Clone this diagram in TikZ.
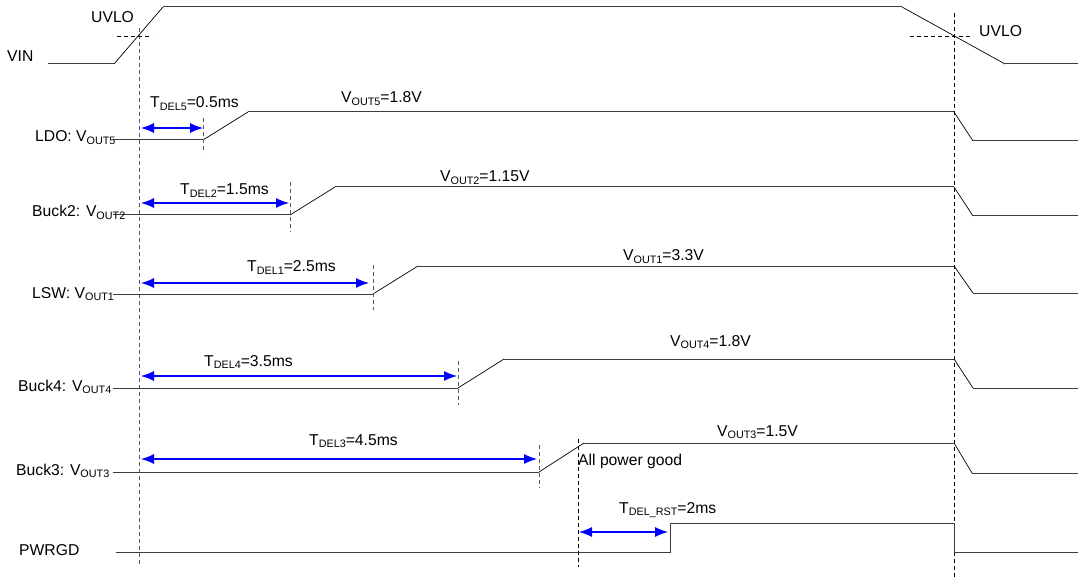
\documentclass[tikz,border=0pt]{standalone}
\usepackage{fontspec}
\setmainfont{Liberation Sans}
\usetikzlibrary{arrows.meta}
\newcommand{\lo}[1]{\raisebox{-2.5pt}{\fontsize{10.8}{10.8}\selectfont #1}}
\tikzset{
  sig/.style={draw={rgb,255:red,60;green,60;blue,60}, line width=1pt, line join=miter},
  ramp/.style={draw=black, line width=0.7pt},
  gdash/.style={draw={rgb,255:red,90;green,90;blue,90}, line width=0.8pt, dash pattern=on 4pt off 3pt},
  bdash/.style={draw=black, line width=0.8pt, dash pattern=on 4pt off 3pt},
  delay/.style={draw=blue, line width=1.1pt, {Latex[length=13pt,width=10pt]}-{Latex[length=13pt,width=10pt]}},
  lbl/.style={inner sep=0pt, anchor=base west, font=\fontsize{15.7}{16}\selectfont}
}
\begin{document}
\begin{tikzpicture}[x=1pt,y=-1pt]
\useasboundingbox (0,0) rectangle (1078,577);
% main vertical dashed lines
\coordinate (L1) at (139,28); \coordinate (L2) at (139,565);
\coordinate (R1) at (954,13); \coordinate (R2) at (954,577);
\draw[gdash] (L1) -- (L2);
\draw[bdash] (R1) -- (R2);
% UVLO horizontal
\draw[bdash] (117,36) -- (152,36);
\draw[bdash] (910,36) -- (973,36);
% VIN
\draw[sig] (48,64) -- (114,64);
\draw[ramp] (114,64) -- (163,7);
\draw[sig] (163,7) -- (902,7);
\draw[ramp] (902,7) -- (1005,64);
\draw[sig] (1005,64) -- (1078,64);
% LDO
\draw[sig] (113,140) -- (203,140);
\draw[ramp] (203,140) -- (248,112);
\draw[sig] (248,112) -- (954,112);
\draw[ramp] (954,112) -- (973,141);
\draw[sig] (973,141) -- (1078,141);
\draw[gdash] (203,118) -- (203,153);
% Buck2
\draw[sig] (113,215) -- (290,215);
\draw[ramp] (290,215) -- (335,187);
\draw[sig] (335,187) -- (954,187);
\draw[ramp] (954,187) -- (973,216);
\draw[sig] (973,216) -- (1078,216);
\draw[gdash] (290,182) -- (290,232);
% LSW
\draw[sig] (113,294) -- (373,294);
\draw[ramp] (373,294) -- (418,266);
\draw[sig] (418,266) -- (954,266);
\draw[ramp] (954,266) -- (973,293);
\draw[sig] (973,293) -- (1078,293);
\draw[gdash] (373,265) -- (373,310);
% Buck4
\draw[sig] (113,388) -- (458,388);
\draw[ramp] (458,388) -- (504,359);
\draw[sig] (504,359) -- (954,359);
\draw[ramp] (954,359) -- (973,388);
\draw[sig] (973,388) -- (1078,388);
\draw[gdash] (458,361) -- (458,405);
% Buck3
\draw[sig] (113,472) -- (539,472);
\draw[ramp] (539,472) -- (584,443);
\draw[sig] (584,443) -- (954,443);
\draw[ramp] (954,443) -- (972,473);
\draw[sig] (972,473) -- (1078,473);
\draw[gdash] (539,445) -- (539,488);
\draw[bdash] (578,439) -- (578,567);
% PWRGD
\draw[sig] (116,552) -- (670,552) -- (670,523) -- (954,523) -- (954,552) -- (1078,552);
% delay arrows
\draw[delay] (141,128) -- (203,128);
\draw[delay] (141,203) -- (289,203);
\draw[delay] (141,283) -- (369,283);
\draw[delay] (141,376) -- (457,376);
\draw[delay] (141,459) -- (537,459);
\draw[delay] (579,532) -- (668,532);
% labels
\node[lbl] (vin) at (7,62) {VIN};
\node[lbl] (uvlo1) at (91,23) {UVLO};
\node[lbl] (uvlo2) at (979,37) {UVLO};
\node[lbl] (ldo) at (35,142) {LDO: V\lo{OUT5}};
\node[lbl] (buck2) at (32,217) {Buck2: V\lo{OUT2}};
\node[lbl] (lsw) at (32,298) {LSW: V\lo{OUT1}};
\node[lbl] (buck4) at (18,391) {Buck4: V\lo{OUT4}};
\node[lbl] (buck3) at (16,475) {Buck3: V\lo{OUT3}};
\node[lbl] (pwrgd) at (19,555) {PWRGD};
\node[lbl] (t5) at (150,108) {T\lo{DEL5}=0.5ms};
\node[lbl] (t2) at (180,195) {T\lo{DEL2}=1.5ms};
\node[lbl] (t1) at (247,272) {T\lo{DEL1}=2.5ms};
\node[lbl] (t4) at (204,366) {T\lo{DEL4}=3.5ms};
\node[lbl] (t3) at (309,445) {T\lo{DEL3}=4.5ms};
\node[lbl] (trst) at (619,513) {T\lo{DEL\_RST}=2ms};
\node[lbl] (v5) at (341,103) {V\lo{OUT5}=1.8V};
\node[lbl] (v2) at (440,182) {V\lo{OUT2}=1.15V};
\node[lbl] (v1) at (623,261) {V\lo{OUT1}=3.3V};
\node[lbl] (v4) at (670,346) {V\lo{OUT4}=1.8V};
\node[lbl] (v3) at (717,436) {V\lo{OUT3}=1.5V};
\node[lbl] (apg) at (578,465) {All power good};
\end{tikzpicture}
\end{document}
